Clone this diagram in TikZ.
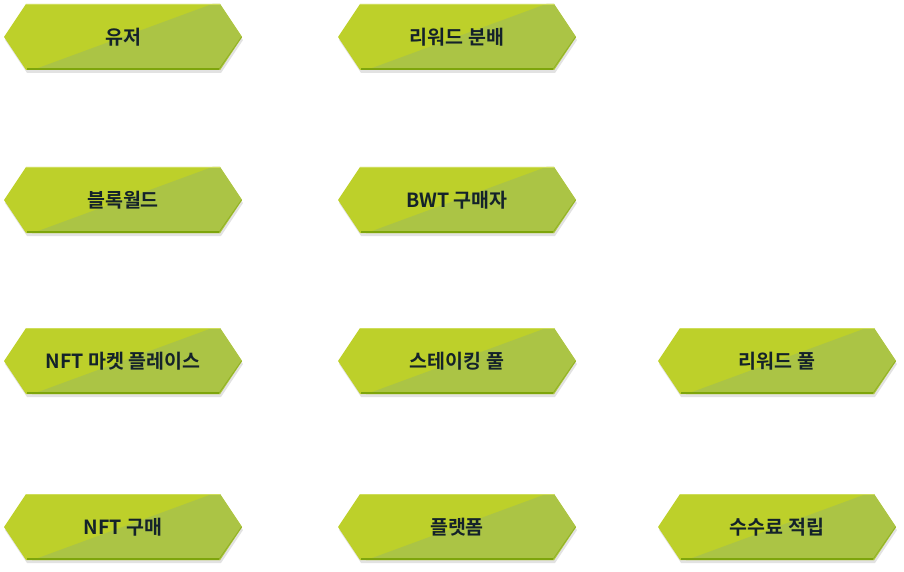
\documentclass[tikz,border=0pt]{standalone}
\usepackage{fontspec}
\newfontfamily\krfont{Noto Sans CJK KR}[BoldFont={* Bold}]
\definecolor{hexlight}{HTML}{BDD02A}
\definecolor{hexdark}{HTML}{ABC445}
\definecolor{hexedge}{HTML}{7EA50C}
\definecolor{hextop}{HTML}{CEDD5A}
\definecolor{hexshadow}{HTML}{D6D6D6}
\definecolor{hextext}{HTML}{14222A}
\tikzset{
  hexlabel/.style={font=\krfont\bfseries\fontsize{19.5}{22}\selectfont, text=hextext, inner sep=0pt},
}
\newcommand{\hexpath}{(-119,0) -- (-97,-33) -- (97,-33) -- (119,0) -- (97,33) -- (-97,33) -- cycle}
\newcommand{\hexbox}[4]{%
  \begin{scope}[shift={(#2,#3)}]
    \fill[hexshadow, opacity=0.7] (-118,3) -- (-96,36) -- (98,36) -- (120,3) -- (98,-28) -- (-96,-28) -- cycle;
    \begin{scope}
      \clip \hexpath;
      \fill[hexlight] (-120,-34) rectangle (120,34);
      \fill[hexdark] (-93,34) -- (92,-34) -- (120,-34) -- (120,34) -- cycle;
    \end{scope}
    \draw[hextop, line width=0.8pt] (-97,-32.6) -- (97,-32.6);
    \draw[hexedge, line width=1.6pt] (-96,32.2) -- (96,32.2);
    \draw[hexedge, line width=0.8pt, opacity=0.6] (96,32.2) -- (118.5,0);
    \node[hexlabel] (#1) at (0,0) {#4};
  \end{scope}}
\begin{document}
\begin{tikzpicture}[x=1pt,y=-1pt]
\useasboundingbox (0,0) rectangle (904,572);
\hexbox{user}{123}{37}{유저}
\hexbox{reward}{457}{37}{리워드 분배}
\hexbox{blockworld}{123}{200}{블록월드}
\hexbox{bwt}{457}{200}{BWT 구매자}
\hexbox{market}{123}{361}{NFT 마켓 플레이스}
\hexbox{staking}{457}{361}{스테이킹 풀}
\hexbox{rewardpool}{777}{361}{리워드 풀}
\hexbox{nftbuy}{123}{527}{NFT 구매}
\hexbox{platform}{457}{527}{플랫폼}
\hexbox{fee}{777}{527}{수수료 적립}
\end{tikzpicture}
\end{document}
